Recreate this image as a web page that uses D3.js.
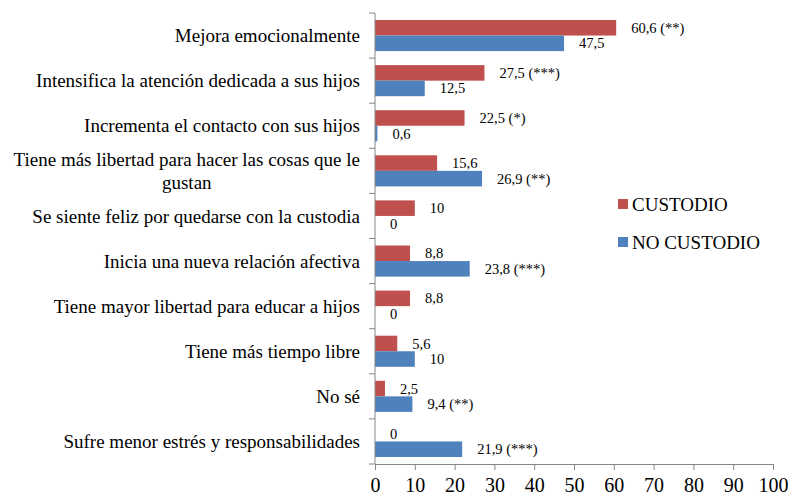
<!DOCTYPE html>
<html>
<head>
<meta charset="utf-8">
<script src="https://cdn.jsdelivr.net/npm/d3@7"></script>
<style>
  body { margin: 0; background: #fff; }
</style>
</head>
<body>
<div id="chart"></div>
<script>
// Data
const categories = [
  'Mejora emocionalmente',
  'Intensifica la atención dedicada a sus hijos',
  'Incrementa el contacto con sus hijos',
  'Tiene más libertad para hacer las cosas que le|gustan',
  'Se siente feliz por quedarse con la custodia',
  'Inicia una nueva relación afectiva',
  'Tiene mayor libertad para educar a hijos',
  'Tiene más tiempo libre',
  'No sé',
  'Sufre menor estrés y responsabilidades'
];
const custodio = [60.6, 27.5, 22.5, 15.6, 10, 8.8, 8.8, 5.6, 2.5, 0];
const noCustodio = [47.5, 12.5, 0.6, 26.9, 0, 23.8, 0, 10, 9.4, 21.9];
const sigCustodio = ['(**)', '(***)', '(*)', '', '', '', '', '', '', ''];
const sigNoCustodio = ['', '', '', '(**)', '', '(***)', '', '', '(**)', '(***)'];
const seriesNames = ['CUSTODIO', 'NO CUSTODIO'];
const colors = ['#C0504D', '#4F81BD'];
const xTicks = [0, 10, 20, 30, 40, 50, 60, 70, 80, 90, 100];

const width = 791, height = 498;
const margin = { left: 375, right: 18, top: 13, bottom: 34 };
const serif = 'Liberation Serif, Times New Roman, serif';

const svg = d3.select('#chart').append('svg')
  .attr('width', width)
  .attr('height', height)
  .attr('font-family', serif);

const x = d3.scaleLinear()
  .domain([0, 100])
  .range([margin.left, width - margin.right]);

const y = d3.scaleBand()
  .domain(categories)
  .range([margin.top, height - margin.bottom]);

const ySub = d3.scaleBand()
  .domain(seriesNames)
  .range([7, y.bandwidth() - 7]);

const fmt = v => String(v).replace('.', ',');

const rows = categories.map((c, i) => ({
  cat: c,
  vals: [
    { s: seriesNames[0], v: custodio[i], sig: sigCustodio[i], color: colors[0] },
    { s: seriesNames[1], v: noCustodio[i], sig: sigNoCustodio[i], color: colors[1] }
  ]
}));

// Bars
const groups = svg.append('g').selectAll('g')
  .data(rows)
  .join('g')
  .attr('transform', d => `translate(0,${y(d.cat)})`);

groups.selectAll('rect')
  .data(d => d.vals)
  .join('rect')
  .attr('x', x(0))
  .attr('y', d => ySub(d.s))
  .attr('width', d => x(d.v) - x(0))
  .attr('height', ySub.bandwidth())
  .attr('fill', d => d.color);

// Value labels
groups.selectAll('text')
  .data(d => d.vals)
  .join('text')
  .attr('x', d => x(d.v) + 15)
  .attr('y', d => ySub(d.s) + ySub.bandwidth() / 2)
  .attr('dy', '0.35em')
  .attr('font-family', serif)
  .attr('font-size', 14.5)
  .attr('fill', '#000')
  .text(d => fmt(d.v) + (d.sig ? ' ' + d.sig : ''));

// X axis
const xAxis = svg.append('g')
  .attr('transform', `translate(0,${height - margin.bottom})`)
  .call(d3.axisBottom(x).tickValues(xTicks).tickSize(6).tickPadding(8));
xAxis.attr('font-family', serif);
xAxis.select('.domain').attr('stroke', '#868686');
xAxis.selectAll('.tick line').attr('stroke', '#868686');
xAxis.selectAll('.tick text')
  .attr('font-size', 20)
  .attr('fill', '#000');

// Y axis line and category ticks (between categories)
const yAxis = svg.append('g');
yAxis.append('line')
  .attr('x1', x(0)).attr('x2', x(0))
  .attr('y1', y.range()[0]).attr('y2', y.range()[1])
  .attr('stroke', '#868686');
const boundaries = categories.map(c => y(c)).concat([y.range()[1]]);
yAxis.selectAll('.ytick')
  .data(boundaries)
  .join('line')
  .attr('class', 'ytick')
  .attr('x1', x(0) - 6).attr('x2', x(0))
  .attr('y1', d => d).attr('y2', d => d)
  .attr('stroke', '#868686');

// Category labels
const labelRight = x(0) - 15;
categories.forEach(c => {
  const lines = c.split('|');
  const cy = y(c) + y.bandwidth() / 2;
  if (lines.length === 1) {
    svg.append('text')
      .attr('x', labelRight)
      .attr('y', cy)
      .attr('dy', '0.35em')
      .attr('text-anchor', 'end')
      .attr('font-family', serif)
      .attr('font-size', 19)
      .text(c);
  } else {
    const t = svg.append('text')
      .attr('font-family', serif)
      .attr('font-size', 19)
      .attr('text-anchor', 'middle');
    const first = t.append('tspan').text(lines[0]);
    const w = first.node().getComputedTextLength();
    const mid = labelRight - w / 2;
    const lh = 23;
    lines.forEach((ln, k) => {
      const ts = k === 0 ? first : t.append('tspan').text(ln);
      ts.attr('x', mid)
        .attr('y', cy + (k - (lines.length - 1) / 2) * lh)
        .attr('dy', '0.35em');
    });
  }
});

// Legend
const legend = svg.append('g').attr('transform', 'translate(618,199)');
seriesNames.forEach((s, i) => {
  const g = legend.append('g').attr('transform', `translate(0,${i * 38})`);
  g.append('rect')
    .attr('width', 10).attr('height', 10)
    .attr('fill', colors[i]);
  g.append('text')
    .attr('x', 14)
    .attr('y', 12)
    .attr('font-family', serif)
    .attr('font-size', 19)
    .text(s);
});
</script>
</body>
</html>
